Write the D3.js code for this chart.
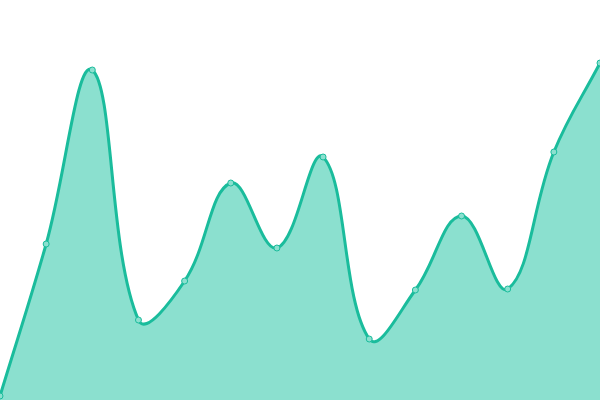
<!DOCTYPE html>
<meta charset="utf-8">
<style>
body{margin:0;background:#fff;}
.area{fill:#8be0cf;}
.line{fill:none;stroke:#1abc9c;stroke-width:3px;}
.dot{fill:#8be0cf;stroke:#1abc9c;stroke-width:1px;}
</style>
<body>
<script src="https://d3js.org/d3.v7.min.js"></script>
<script>
var labels = ["1","2","3","4","5","6","7","8","9","10","11","12","13","14"];
var values = [1, 39, 82.5, 20, 29.75, 54.25, 38, 60.75, 15.25, 27.5, 46, 27.75, 62, 84.25];

var width = 600, height = 400;
var tension = 0.4;

// spline with distance-weighted control points (bezier through each point)
function SplineCurve(context){ this._context = context; }
SplineCurve.prototype = {
  areaStart: function(){ this._line = 0; },
  areaEnd: function(){ this._line = NaN; },
  lineStart: function(){ this._pts = []; },
  point: function(x, y){ this._pts.push([+x, +y]); },
  lineEnd: function(){
    var p = this._pts, c = this._context, n = p.length;
    if (n) {
      if (this._line) c.lineTo(p[0][0], p[0][1]); else c.moveTo(p[0][0], p[0][1]);
      var cps = p.map(function(cur, i){
        var prev = p[Math.max(i-1,0)], next = p[Math.min(i+1,n-1)];
        var d01 = Math.hypot(cur[0]-prev[0], cur[1]-prev[1]);
        var d12 = Math.hypot(next[0]-cur[0], next[1]-cur[1]);
        var s01 = d01/(d01+d12) || 0, s12 = d12/(d01+d12) || 0;
        var fa = tension*s01, fb = tension*s12;
        var dx = next[0]-prev[0], dy = next[1]-prev[1];
        return {
          px: cur[0]-fa*dx, py: cur[1]-fa*dy,
          nx: cur[0]+fb*dx, ny: cur[1]+fb*dy
        };
      });
      for (var i = 1; i < n; i++) {
        c.bezierCurveTo(cps[i-1].nx, cps[i-1].ny, cps[i].px, cps[i].py, p[i][0], p[i][1]);
      }
    }
    if (this._line || (this._line !== 0 && n === 1)) c.closePath();
    this._line = 1 - this._line;
  }
};
var curveSpline = function(context){ return new SplineCurve(context); };

var svg = d3.select("body").append("svg").attr("width", width).attr("height", height);

var x = d3.scalePoint().domain(labels).range([0, width]);
var y = d3.scaleLinear().domain([0, 100]).range([height, 0]);

var data = labels.map(function(l, i){ return {label:l, value:values[i]}; });

var area = d3.area()
    .x(d => x(d.label))
    .y0(height)
    .y1(d => y(d.value))
    .curve(curveSpline);

var line = d3.line()
    .x(d => x(d.label))
    .y(d => y(d.value))
    .curve(curveSpline);

svg.append("path").datum(data).attr("class","area").attr("d", area);
svg.append("path").datum(data).attr("class","line").attr("d", line);

svg.selectAll(".dot").data(data).enter().append("circle")
    .attr("class","dot")
    .attr("cx", d => x(d.label))
    .attr("cy", d => y(d.value))
    .attr("r", 3);
</script>
</body>
